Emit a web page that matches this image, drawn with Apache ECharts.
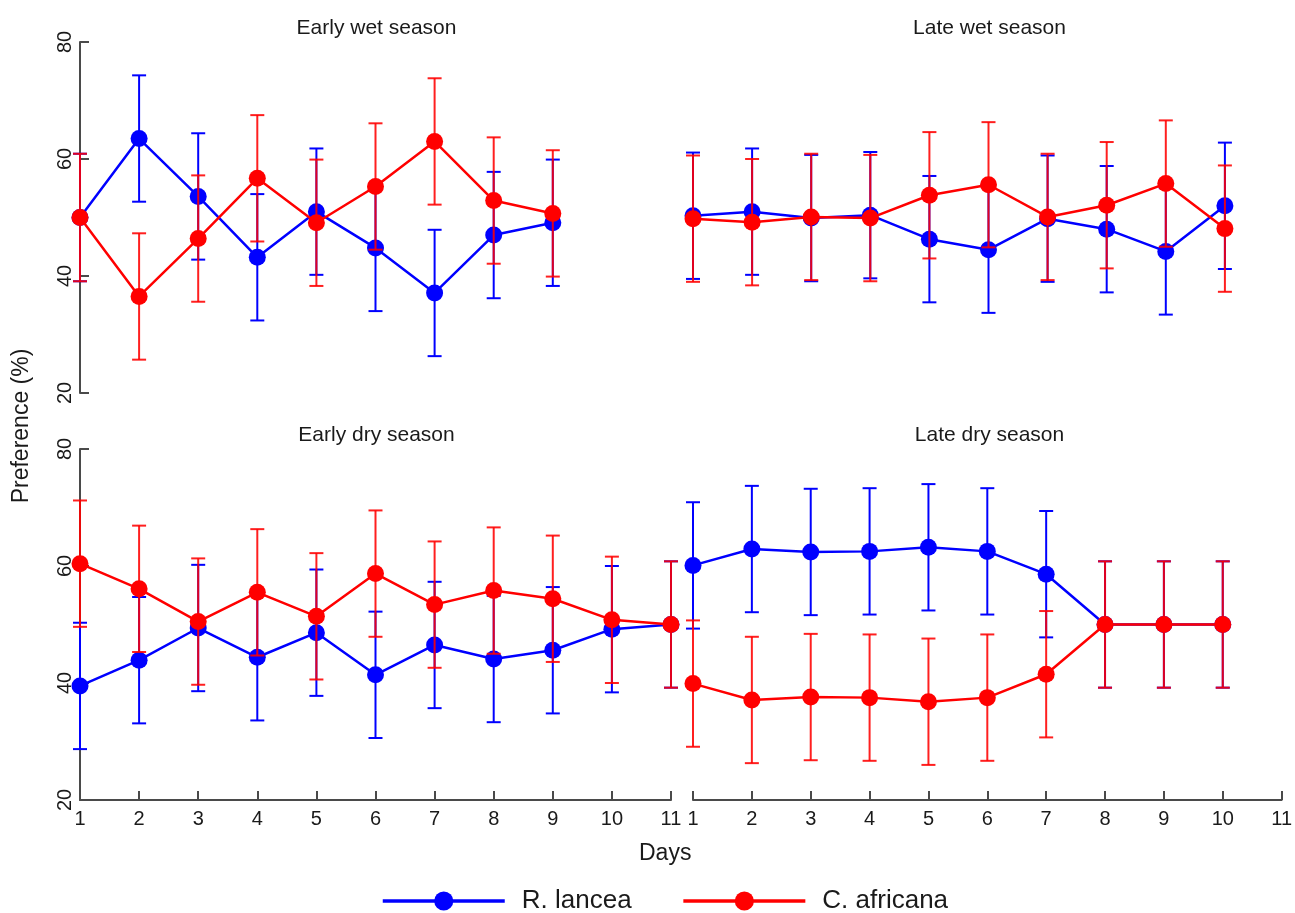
<!DOCTYPE html>
<html>
<head>
<meta charset="utf-8">
<script src="https://cdn.jsdelivr.net/npm/echarts@6/dist/echarts.min.js"></script>
<style>
html,body{margin:0;padding:0;background:#fff;}
#chart{width:1295px;height:913px;}
</style>
</head>
<body>
<div id="chart"></div>
<script>
// ---- data ----
const seriesNames = ['R. lancea', 'C. africana'];
const panelTitles = ['Early wet season', 'Late wet season', 'Early dry season', 'Late dry season'];
const yTicks = [20, 40, 60, 80];
const xTicks = [1, 2, 3, 4, 5, 6, 7, 8, 9, 10, 11];

const earlyWetDays = [1, 2, 3, 4, 5, 6, 7, 8, 9];
const earlyWetLancea = [50.0, 63.5, 53.6, 43.2, 51.0, 44.8, 37.1, 47.0, 49.1];
const earlyWetLanceaErr = [10.9, 10.8, 10.8, 10.8, 10.8, 10.8, 10.8, 10.8, 10.8];
const earlyWetAfricana = [50.0, 36.5, 46.4, 56.7, 49.1, 55.3, 63.0, 52.9, 50.7];
const earlyWetAfricanaErr = [10.9, 10.8, 10.8, 10.8, 10.8, 10.8, 10.8, 10.8, 10.8];

const lateWetDays = [1, 2, 3, 4, 5, 6, 7, 8, 9, 10];
const lateWetLancea = [50.3, 51.0, 49.9, 50.4, 46.3, 44.5, 49.8, 48.0, 44.2, 52.0];
const lateWetLanceaErr = [10.8, 10.8, 10.8, 10.8, 10.8, 10.8, 10.8, 10.8, 10.8, 10.8];
const lateWetAfricana = [49.8, 49.2, 50.1, 49.9, 53.8, 55.6, 50.1, 52.1, 55.8, 48.1];
const lateWetAfricanaErr = [10.8, 10.8, 10.8, 10.8, 10.8, 10.7, 10.8, 10.8, 10.8, 10.8];

const earlyDryDays = [1, 2, 3, 4, 5, 6, 7, 8, 9, 10, 11];
const earlyDryLancea = [39.5, 43.9, 49.4, 44.4, 48.6, 41.4, 46.5, 44.1, 45.6, 49.2, 50.0];
const earlyDryLanceaErr = [10.8, 10.8, 10.8, 10.8, 10.8, 10.8, 10.8, 10.8, 10.8, 10.8, 10.8];
const earlyDryAfricana = [60.4, 56.1, 50.5, 55.5, 51.4, 58.7, 53.4, 55.8, 54.4, 50.8, 50.0];
const earlyDryAfricanaErr = [10.8, 10.8, 10.8, 10.8, 10.8, 10.8, 10.8, 10.8, 10.8, 10.8, 10.8];

const lateDryDays = [1, 2, 3, 4, 5, 6, 7, 8, 9, 10];
const lateDryLancea = [60.1, 62.9, 62.4, 62.5, 63.2, 62.5, 58.6, 50.0, 50.0, 50.0];
const lateDryLanceaErr = [10.8, 10.8, 10.8, 10.8, 10.8, 10.8, 10.8, 10.8, 10.8, 10.8];
const lateDryAfricana = [39.9, 37.1, 37.6, 37.5, 36.8, 37.5, 41.5, 50.0, 50.0, 50.0];
const lateDryAfricanaErr = [10.8, 10.8, 10.8, 10.8, 10.8, 10.8, 10.8, 10.8, 10.8, 10.8];

// ---- styling / layout ----
const BLUE = '#0000ff';
const RED = '#ff0000';
const FONT = '"Liberation Sans", Arial, Helvetica, sans-serif';
const TXT = '#1a1a1a';
const AXIS = '#4a4a4a';

const panels = [
  {days: earlyWetDays, a: earlyWetLancea, ae: earlyWetLanceaErr, b: earlyWetAfricana, be: earlyWetAfricanaErr},
  {days: lateWetDays, a: lateWetLancea, ae: lateWetLanceaErr, b: lateWetAfricana, be: lateWetAfricanaErr},
  {days: earlyDryDays, a: earlyDryLancea, ae: earlyDryLanceaErr, b: earlyDryAfricana, be: earlyDryAfricanaErr},
  {days: lateDryDays, a: lateDryLancea, ae: lateDryLanceaErr, b: lateDryAfricana, be: lateDryAfricanaErr}
];

const grids = [
  {left: 80, top: 42, width: 591, height: 351},
  {left: 693, top: 42, width: 591, height: 351},
  {left: 80, top: 449, width: 591, height: 351},
  {left: 693, top: 449, width: 591, height: 351}
];

function xAxisFor(i) {
  const show = i >= 2;
  return {
    type: 'value', gridIndex: i, min: xTicks[0], max: xTicks[xTicks.length - 1], interval: 1,
    show: show,
    axisLine: {show: true, onZero: false, lineStyle: {color: AXIS, width: 2}},
    axisTick: {show: true, inside: true, length: 9, lineStyle: {color: AXIS, width: 2}},
    axisLabel: {show: true, fontFamily: FONT, fontSize: 20, color: TXT, margin: 9},
    splitLine: {show: false}
  };
}
function yAxisFor(i) {
  const show = (i % 2) === 0;
  return {
    type: 'value', gridIndex: i, min: yTicks[0], max: yTicks[yTicks.length - 1], interval: 20,
    show: show,
    axisLine: {show: true, lineStyle: {color: AXIS, width: 2}},
    axisTick: {show: true, inside: true, length: 9, lineStyle: {color: AXIS, width: 2}},
    axisLabel: {show: true, rotate: 90, fontFamily: FONT, fontSize: 20, color: TXT, margin: 5},
    splitLine: {show: false}
  };
}

function errSeries(i, days, vals, errs, color, opacity, z) {
  return {
    type: 'custom', gridIndex: i, xAxisIndex: i, yAxisIndex: i, z: z, silent: true,
    data: days.map((d, k) => [d, vals[k] - errs[k], vals[k] + errs[k]]),
    encode: {x: 0, y: [1, 2]},
    renderItem: function (params, api) {
      const x = api.value(0);
      const lo = api.coord([x, api.value(1)]);
      const hi = api.coord([x, api.value(2)]);
      const w = 7;
      const st = {stroke: color, lineWidth: 2, opacity: opacity};
      return {
        type: 'group',
        children: [
          {type: 'line', shape: {x1: lo[0], y1: lo[1], x2: hi[0], y2: hi[1]}, style: st},
          {type: 'line', shape: {x1: hi[0] - w, y1: hi[1], x2: hi[0] + w, y2: hi[1]}, style: st},
          {type: 'line', shape: {x1: lo[0] - w, y1: lo[1], x2: lo[0] + w, y2: lo[1]}, style: st}
        ]
      };
    }
  };
}
function lineSeries(i, name, days, vals, color, z) {
  return {
    type: 'line', name: name, xAxisIndex: i, yAxisIndex: i, z: z,
    data: days.map((d, k) => [d, vals[k]]),
    symbol: 'circle', symbolSize: 17,
    lineStyle: {color: color, width: 2.5},
    itemStyle: {color: color},
    emphasis: {disabled: true}
  };
}

const series = [];
panels.forEach((p, i) => {
  series.push(errSeries(i, p.days, p.a, p.ae, BLUE, 1, 2));
  series.push(lineSeries(i, seriesNames[0], p.days, p.a, BLUE, 3));
  series.push(errSeries(i, p.days, p.b, p.be, RED, 0.88, 4));
  series.push(lineSeries(i, seriesNames[1], p.days, p.b, RED, 5));
});

const titles = panelTitles.map((t, i) => ({
  text: t,
  left: grids[i].left + grids[i].width / 2 - 4,
  top: i < 2 ? 13 : 420,
  textAlign: 'center',
  textStyle: {fontFamily: FONT, fontSize: 21, fontWeight: 'normal', color: TXT}
}));

const option = {
  animation: false,
  backgroundColor: '#fff',
  title: titles,
  grid: grids,
  xAxis: [0, 1, 2, 3].map(xAxisFor),
  yAxis: [0, 1, 2, 3].map(yAxisFor),
  legend: {
    data: seriesNames,
    left: 376, top: 883,
    itemWidth: 122, itemHeight: 24, itemGap: 50,
    lineStyle: {width: 3.5},
    textStyle: {fontFamily: FONT, fontSize: 26, color: TXT, padding: [0, 0, 0, 12]}
  },
  graphic: [
    {type: 'text', left: 639, top: 842, style: {text: 'Days', font: '23px ' + FONT, fill: TXT}},
    {type: 'text', x: 10, y: 426, rotation: Math.PI / 2,
      style: {text: 'Preference (%)', font: '23px ' + FONT, fill: TXT, align: 'center', verticalAlign: 'top'}}
  ],
  series: series
};

const chart = echarts.init(document.getElementById('chart'), null, {renderer: 'canvas'});
chart.setOption(option);
</script>
</body>
</html>
